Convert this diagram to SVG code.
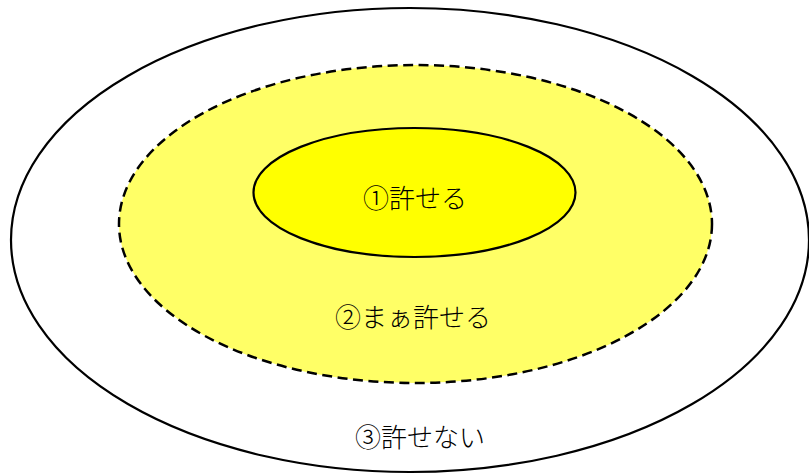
<svg xmlns="http://www.w3.org/2000/svg" width="809" height="475" viewBox="0 0 809 475">
<style>
.lbl{font-family:"Noto Sans CJK JP","Noto Sans",sans-serif;font-size:26px;font-weight:300;fill:#000;text-anchor:middle;dominant-baseline:central}
.solid{stroke:#000;stroke-width:2.2}
</style>
<rect width="809" height="475" fill="#fff"/>
<g id="outer">
<ellipse class="solid" cx="410" cy="240" rx="399" ry="232" fill="#fff"/>
<text class="lbl" x="420" y="435">③許せない</text>
</g>
<g id="middle">
<ellipse cx="415.5" cy="224" rx="296.5" ry="159" fill="#FFFF66" stroke="#000" stroke-width="2.5" stroke-dasharray="10,5.5"/>
<text class="lbl" x="413" y="315">②まぁ許せる</text>
</g>
<g id="inner">
<ellipse class="solid" cx="414.5" cy="192.5" rx="161" ry="64.5" fill="#FFFF00"/>
<text class="lbl" x="415" y="196">①許せる</text>
</g>
<g id="connectors"/>
</svg>
